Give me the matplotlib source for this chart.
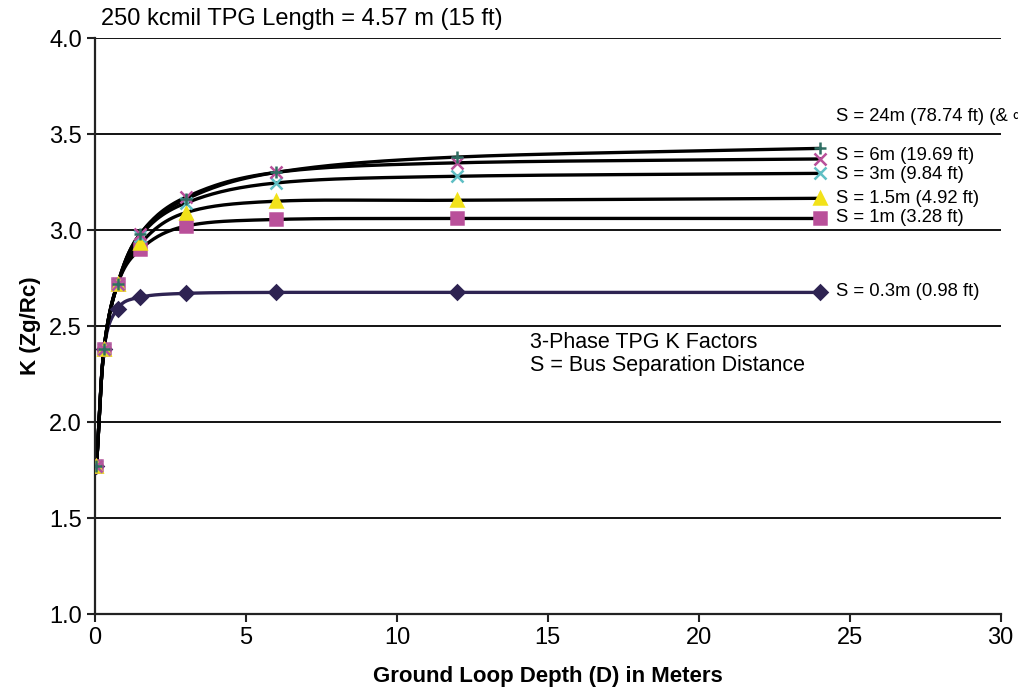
import numpy as np
import matplotlib.pyplot as plt

plt.rcParams['font.family'] = ['Liberation Sans', 'DejaVu Sans']

# ground loop depth (m)
depth = [0.05, 0.3, 0.75, 1.5, 3, 6, 12, 24]

# K factors per bus separation distance
k_03 = [1.77, 2.38, 2.59, 2.65, 2.67, 2.675, 2.675, 2.675]
k_1 = [1.77, 2.38, 2.72, 2.90, 3.02, 3.055, 3.06, 3.06]
k_15 = [1.77, 2.38, 2.72, 2.93, 3.09, 3.15, 3.155, 3.165]
k_3 = [1.77, 2.38, 2.72, 2.97, 3.14, 3.245, 3.28, 3.295]
k_6 = [1.77, 2.38, 2.72, 2.98, 3.17, 3.30, 3.35, 3.37]
k_24 = [1.77, 2.38, 2.72, 2.98, 3.16, 3.30, 3.38, 3.425]

labels = ["S = 0.3m (0.98 ft)", "S = 1m (3.28 ft)", "S = 1.5m (4.92 ft)",
          "S = 3m (9.84 ft)", "S = 6m (19.69 ft)", "S = 24m (78.74 ft) (& \u221e)"]
label_y = [2.68, 3.065, 3.165, 3.29, 3.39, 3.59]


def smooth(x, y, n=30):
    # catmull-rom style curve through the points (like a spreadsheet "smoothed line")
    x = np.asarray(x, float)
    y = np.asarray(y, float)
    px = np.concatenate([[2 * x[0] - x[1]], x, [2 * x[-1] - x[-2]]])
    py = np.concatenate([[2 * y[0] - y[1]], y, [2 * y[-1] - y[-2]]])
    xs, ys = [], []
    t = np.linspace(0, 1, n)
    for i in range(1, len(px) - 2):
        for p, out in ((px, xs), (py, ys)):
            p0, p1, p2, p3 = p[i - 1], p[i], p[i + 1], p[i + 2]
            c1 = p1 + (p2 - p0) / 6
            c2 = p2 - (p3 - p1) / 6
            out.extend((1 - t) ** 3 * p1 + 3 * (1 - t) ** 2 * t * c1
                       + 3 * (1 - t) * t ** 2 * c2 + t ** 3 * p2)
    return np.array(xs), np.array(ys)


fig = plt.figure(figsize=(10.18, 6.96), dpi=100)
ax = fig.add_axes([0.0933, 0.1178, 0.8897, 0.8276])

series = [
    (k_03, 'D', '#2e2352', '#2e2352', 7),
    (k_1, 's', '#b9509a', 'black', 8),
    (k_15, '^', '#f2e21a', 'black', 9),
    (k_3, 'x', '#5fbfc4', 'black', 8),
    (k_6, 'x', '#b9509a', 'black', 8),
    (k_24, '+', '#2f6e63', 'black', 9),
]

for k, m, mc, lc, ms in series:
    sx, sy = smooth(depth, k)
    ax.plot(sx, sy, color=lc, lw=2.4, zorder=2)
for k, m, mc, lc, ms in series:
    ax.plot(depth, k, ls='none', marker=m, color=mc, ms=ms, mew=1.8, zorder=3)

for txt, ty in zip(labels, label_y):
    ax.text(24.55, ty, txt, fontsize=13.3, va='center', ha='left', clip_on=False)

ax.text(14.4, 2.355, "3-Phase TPG K Factors\nS = Bus Separation Distance",
        fontsize=15.5, va='center', ha='left', linespacing=1.15)

ax.text(0.2, 4.04, "250 kcmil TPG Length = 4.57 m (15 ft)", fontsize=17,
        va='bottom', ha='left')

ax.set_xlim(0, 30)
ax.set_ylim(1.0, 4.0)
ax.set_xticks(np.arange(0, 31, 5))
ax.set_yticks(np.arange(1.0, 4.01, 0.5))
ax.set_yticklabels([f"{v:.1f}" for v in np.arange(1.0, 4.01, 0.5)])
ax.tick_params(labelsize=17, length=6, width=1.5, direction='out', color='#222222')
ax.grid(axis='y', color='black', lw=1.3)
ax.set_axisbelow(True)
for s in ('top', 'right'):
    ax.spines[s].set_visible(False)
for s in ('left', 'bottom'):
    ax.spines[s].set_linewidth(1.6)
    ax.spines[s].set_color('#222222')

ax.set_xlabel("Ground Loop Depth (D) in Meters", fontsize=16, fontweight='bold', labelpad=12)
ax.set_ylabel("K (Zg/Rc)", fontsize=16, fontweight='bold', labelpad=6)

fig.savefig("out.png", dpi=100)
